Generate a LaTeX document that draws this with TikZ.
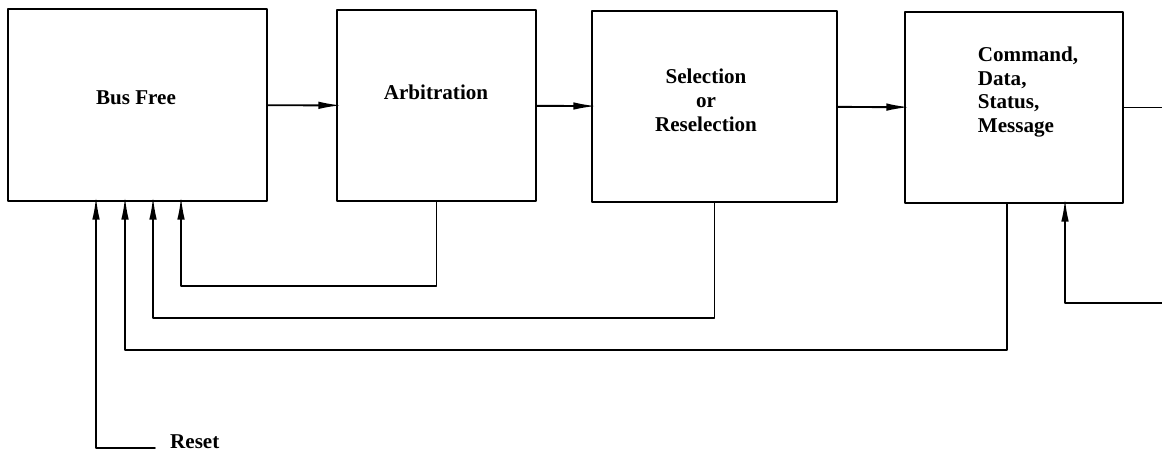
\documentclass[tikz,border=0pt]{standalone}
\usepackage{fontspec}
\setmainfont{Liberation Serif}
\usetikzlibrary{arrows.meta,calc}
\tikzset{
  every picture/.style={line join=round, line cap=round, >=Stealth},
  phase/.style={draw, line width=1.5pt, inner sep=0pt, outer sep=0pt},
  lbl/.style={font=\fontsize{12}{13.6}\selectfont\bfseries, align=center},
  arr/.style={->, line width=1.1pt, shorten >=-2.5pt, >={Latex[length=4.6mm,width=1.5mm]}},
  ln/.style={line width=1.1pt},
}
\begin{document}
\begin{tikzpicture}[x=0.02cm,y=-0.02cm]
\useasboundingbox (0,0) rectangle (1162,454);
% the four bus phases
\node[phase,minimum width=5.18cm,minimum height=3.84cm](bus)at(137.5,105){};
\node[phase,minimum width=3.98cm,minimum height=3.82cm](arb)at(436.5,105.5){};
\node[phase,minimum width=4.90cm,minimum height=3.82cm](sel)at(714.5,106.5){};
\node[phase,minimum width=4.36cm,minimum height=3.82cm](cmd)at(1014,107.5){};
\node[lbl](busl)at(136,98){Bus Free};
\node[lbl](arbl)at(436,92){Arbitration};
\node[lbl](sell)at(706,100){Selection\\ or\\ Reselection};
\node[lbl,align=left](cmdl)at(1028,92){Command,\\ Data,\\ Status,\\ Message};
\node[lbl,anchor=base west](reset)at(164,448){Reset};
\coordinate(out)at(1162,107.5);
\coordinate(ext)at(1162,303);
% forward path
\draw[arr](bus)--(arb);
\draw[arr](arb)--(sel);
\draw[arr](sel)--(cmd);
\draw[ln](cmd)--(out);
% return paths
\draw[arr](arb.south)--++(0,85)-|($(bus.south west)+(173,0)$);
\draw[arr](sel.south)--++(0,116)-|($(bus.south west)+(145,0)$);
\draw[arr]($(cmd.south)+(-7,0)$)--++(0,147)-|($(bus.south west)+(117,0)$);
\draw[arr]([xshift=-0.18cm]reset.base west)-|($(bus.south west)+(88,0)$);
\draw[arr](ext)-|($(cmd.south)+(51,0)$);
\end{tikzpicture}
\end{document}
